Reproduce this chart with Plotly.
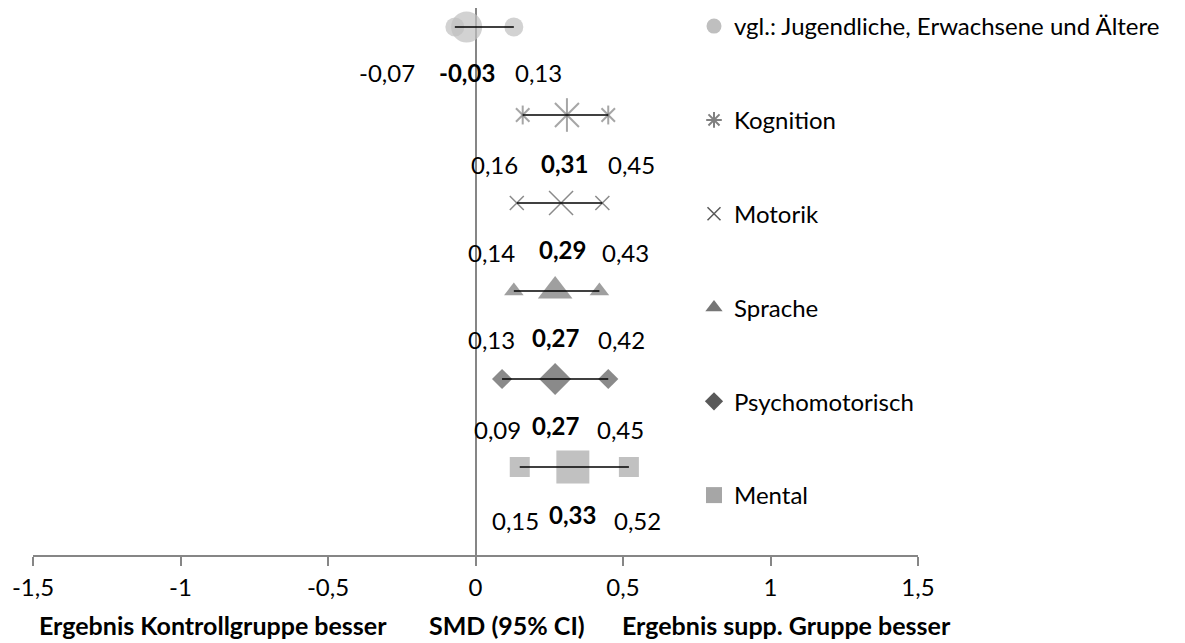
import plotly.graph_objects as go

# ---------------- data ----------------
categories = ["vgl.: Jugendliche, Erwachsene und Ältere", "Kognition", "Motorik",
              "Sprache", "Psychomotorisch", "Mental"]
smd = [-0.03, 0.31, 0.29, 0.27, 0.27, 0.33]
ci_low = [-0.07, 0.16, 0.14, 0.13, 0.09, 0.15]
ci_high = [0.13, 0.45, 0.43, 0.42, 0.45, 0.52]
tick_vals = [-1.5, -1, -0.5, 0, 0.5, 1, 1.5]
tick_text = ["-1,5", "-1", "-0,5", "0", "0,5", "1", "1,5"]
left_label = "Ergebnis Kontrollgruppe besser"
mid_label = "SMD (95% CI)"
right_label = "Ergebnis supp. Gruppe besser"

# ---------------- styles ----------------
FONT = "Lato"
W, H = 1177, 635          # page body adds an 8px offset
PLOT_H = 547              # plot area height in px
ROW = 88                  # px per category row
styles = [
    dict(symbols=["circle"], color="#BFBFBF", small=19, big=31, lw=0, leg_sym="circle", leg_size=15),
    dict(symbols=["x-thin-open", "line-ns-open"], color="#808080", small=13.5, big=24, lw=2,
         leg_sym="asterisk-open", leg_size=13),
    dict(symbols=["x-thin-open"], color="#595959", small=14, big=24, lw=1.5, leg_sym="x-thin-open", leg_size=13),
    dict(symbols=["triangle-up"], color="#767676", small=17, big=30, lw=0, leg_sym="triangle-up", leg_size=15),
    dict(symbols=["diamond"], color="#595959", small=15.5, big=24.5, lw=0, leg_sym="diamond", leg_size=14),
    dict(symbols=["square"], color="#A6A6A6", small=20, big=33, lw=0, leg_sym="square", leg_size=17),
]
# label offsets in pixels (manual placement as in the original)
low_dx = [-68, -28, -25, -22, -5, -4]
mid_dx = [0, -2, 1, 0, 0, 0]
high_dx = [25, 23, 23, 22, 12, 9]
low_dy = [45, 49, 49, 48, 50, 53]
mid_dy = [45, 48, 46, 46, 46, 47]

fig = go.Figure()

# data markers + CI lines
for i, cat in enumerate(categories):
    st = styles[i]
    xs = [ci_low[i], smd[i], ci_high[i]]
    ys = [cat] * 3
    sizes = [st["small"], st["big"], st["small"]]
    for sym in st["symbols"]:
        open_sym = sym.endswith("-open")
        fig.add_trace(go.Scatter(
            x=xs, y=ys, mode="markers", showlegend=False, cliponaxis=False,
            hoverinfo="skip",
            marker=dict(symbol=sym, size=sizes, color=st["color"],
                        line=dict(width=st["lw"] if open_sym else 0, color=st["color"])),
        ))
    fig.add_trace(go.Scatter(
        x=[ci_low[i], ci_high[i]], y=[cat, cat], mode="lines", showlegend=False,
        cliponaxis=False, hoverinfo="skip",
        line=dict(color="black", width=1.5),
    ))

# legend entries
for i, cat in enumerate(categories):
    st = styles[i]
    open_sym = st["leg_sym"].endswith("-open")
    fig.add_trace(go.Scatter(
        x=[None], y=[None], mode="markers", name=cat, legendgroup=f"g{i}",
        marker=dict(symbol=st["leg_sym"], size=st["leg_size"], color=st["color"],
                    line=dict(width=st["lw"] if open_sym else 0, color=st["color"])),
    ))

def fmt(v):
    return f"{v:.2f}".replace(".", ",")

annotations = []
for i, cat in enumerate(categories):
    for val, dx, dy, bold in [(ci_low[i], low_dx[i], low_dy[i], False),
                              (smd[i], mid_dx[i], mid_dy[i], True),
                              (ci_high[i], high_dx[i], low_dy[i], False)]:
        txt = fmt(val)
        annotations.append(dict(
            x=val, y=cat, xref="x", yref="y", text=f"<b>{txt}</b>" if bold else txt,
            showarrow=False, xanchor="center", yanchor="middle",
            xshift=dx, yshift=-dy, font=dict(family=FONT, size=24, color="black"),
        ))

for txt, xv in [(left_label, -0.89), (mid_label, 0.107), (right_label, 1.053)]:
    annotations.append(dict(
        x=xv, y=0, xref="x", yref="paper", text=f"<b>{txt}</b>", showarrow=False,
        xanchor="center", yanchor="middle", yshift=-70,
        font=dict(family=FONT, size=25, color="black"),
    ))

fig.update_layout(
    width=W, height=H,
    margin=dict(l=0, r=0, t=0, b=H - PLOT_H, autoexpand=False),
    paper_bgcolor="white", plot_bgcolor="white",
    font=dict(family=FONT, size=24, color="black"),
    showlegend=True,
    legend=dict(x=686 / W, y=1 + 4 / PLOT_H, xanchor="left", yanchor="top",
                bgcolor="rgba(0,0,0,0)", font=dict(family=FONT, size=24, color="black"),
                tracegroupgap=59.6, itemsizing="trace", traceorder="grouped",
                maxheight=1000),
    annotations=annotations,
    xaxis=dict(domain=[25 / W, 910 / W], range=[-1.5, 1.5],
               tickvals=tick_vals, ticktext=tick_text, ticks="outside", ticklen=9,
               tickwidth=1.5, tickcolor="#868686", showline=True, linecolor="#868686",
               linewidth=1.5, showgrid=False, zeroline=True, zerolinecolor="#868686",
               zerolinewidth=2, ticklabelstandoff=1, automargin=False,
               tickfont=dict(family=FONT, size=24, color="black"), fixedrange=True),
    yaxis=dict(type="category", categoryorder="array", categoryarray=categories[::-1],
               range=[-1, -1 + PLOT_H / ROW], visible=False, showgrid=False, zeroline=False,
               automargin=False, fixedrange=True),
)

fig.write_html("out.html")
